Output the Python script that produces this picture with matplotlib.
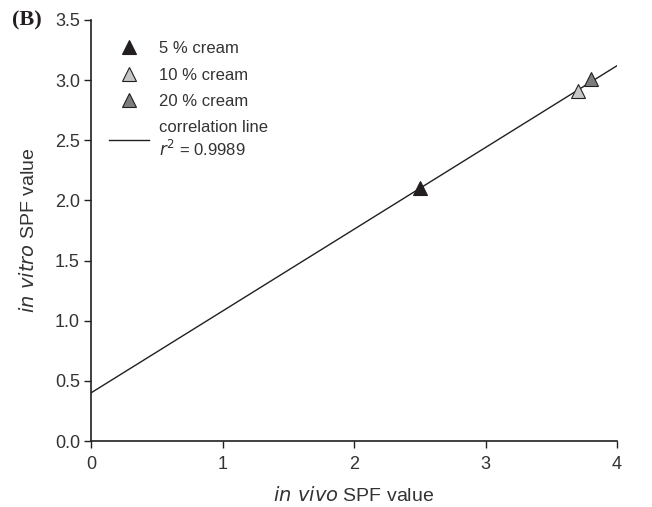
import matplotlib
matplotlib.use("Agg")
import matplotlib.pyplot as plt
from matplotlib.lines import Line2D
import numpy as np

labels = ["5 % cream", "10 % cream", "20 % cream"]
in_vivo = [2.5, 3.7, 3.8]
in_vitro = [2.1, 2.91, 3.01]
colors = ["#231f20", "#c6c6c6", "#7d7d7d"]
slope = 0.68
intercept = 0.40
r2_text = "0.9989"
xticks = [0, 1, 2, 3, 4]
yticks = [0.0, 0.5, 1.0, 1.5, 2.0, 2.5, 3.0, 3.5]

plt.rcParams['font.family'] = ['Liberation Sans', 'DejaVu Sans']
fig = plt.figure(figsize=(6.52, 5.07), dpi=100)
ax = fig.add_axes([91/652, 66/507, (617-91)/652, (441-20)/507])

xl = np.array([0, 4])
ax.plot(xl, intercept + slope * xl, color="#231f20", lw=1.0, zorder=2)
handles = []
for x, y, c, lab in zip(in_vivo, in_vitro, colors, labels):
    ax.plot([x], [y], marker="^", ms=10, color=c, mec="#231f20", mew=0.8, ls="none", zorder=3)
    handles.append(Line2D([], [], marker="^", ms=10, color=c, mec="#231f20", mew=0.8, ls="none", label=lab))
handles.append(Line2D([], [], color="#231f20", lw=1.0, label="correlation line\n$r^2$ = " + r2_text))

ax.set_xlim(0, 4)
ax.set_ylim(0, 3.5)
ax.set_xticks(xticks)
ax.set_xticklabels([str(t) for t in xticks])
ax.set_yticks(yticks)
ax.set_yticklabels([f"{t:.1f}" for t in yticks])
for s in ["top", "right"]:
    ax.spines[s].set_visible(False)
for s in ["left", "bottom"]:
    ax.spines[s].set_color("#231f20")
    ax.spines[s].set_linewidth(1.2)
ax.tick_params(direction="out", length=5, width=1, color="#231f20", labelsize=13, labelcolor="#333333")
ax.tick_params(axis="x", pad=6)
ax.tick_params(axis="y", pad=3)

ax.set_xlabel("$\\it{in\\ vivo}$ SPF value", fontsize=14, color="#333333", labelpad=9)
ax.set_ylabel("$\\it{in\\ vitro}$ SPF value", fontsize=14, color="#333333", labelpad=12)

leg = ax.legend(handles=handles, loc="upper left", bbox_to_anchor=(0.005, 0.985), frameon=False,
                fontsize=12, handlelength=2.4, labelspacing=0.68, handletextpad=0.6,
                labelcolor="#333333")
fig.text(12/652, 1 - 20/507, "(B)", fontsize=16, fontweight="bold", family="Liberation Serif",
         va="center", ha="left", color="#231f20")

fig.savefig("out.png", dpi=100)
